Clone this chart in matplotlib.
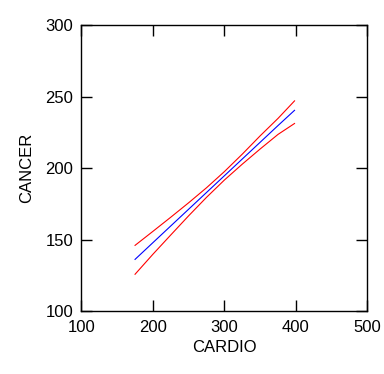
import numpy as np
import matplotlib
matplotlib.use('Agg')
import matplotlib.pyplot as plt

plt.rcParams['font.family'] = ['Liberation Sans', 'DejaVu Sans']

# values
cardio = [175, 200, 225, 250, 275, 300, 325, 350, 375, 398]
fit = [136.2, 147.9, 159.6, 171.3, 183.0, 194.7, 206.4, 218.1, 229.8, 240.4]
upper = [146.0, 155.8, 165.7, 175.8, 186.3, 197.6, 209.8, 222.6, 234.8, 247.0]
lower = [125.8, 139.8, 153.3, 166.7, 179.6, 191.7, 202.8, 213.4, 223.6, 231.2]

xticks = [100, 200, 300, 400, 500]
yticks = [100, 150, 200, 250, 300]

fig = plt.figure(figsize=(3.84, 3.74), dpi=100)
ax = fig.add_axes([0.212, 0.168, 0.745, 0.765])

ax.plot(cardio, upper, color='red', lw=0.8)
ax.plot(cardio, lower, color='red', lw=0.8)
ax.plot(cardio, fit, color='blue', lw=0.8)

ax.set_xlim(100, 500)
ax.set_ylim(100, 300)
ax.set_xticks(xticks)
ax.set_yticks(yticks)
ax.tick_params(direction='in', length=8, width=1, top=True, right=True,
               labelsize=12, pad=6, colors='black')
for s in ax.spines.values():
    s.set_linewidth(1)

ax.set_xlabel('CARDIO', fontsize=12, labelpad=4)
ax.set_ylabel('CANCER', fontsize=12, labelpad=8)

fig.savefig('out.png', dpi=100)
